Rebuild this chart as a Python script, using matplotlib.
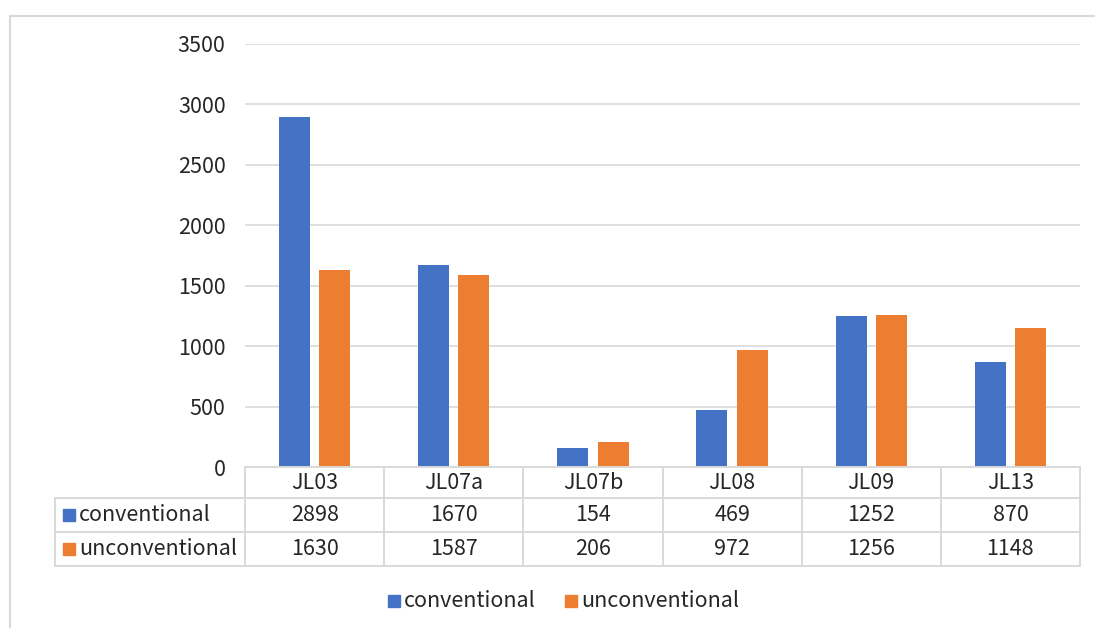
import matplotlib
matplotlib.use("Agg")
import matplotlib.pyplot as plt
from matplotlib.lines import Line2D
from matplotlib.patches import Rectangle
from matplotlib.transforms import blended_transform_factory
import numpy as np

plt.rcParams['font.family'] = ['Noto Sans CJK SC', 'DejaVu Sans']

categories = ["JL03", "JL07a", "JL07b", "JL08", "JL09", "JL13"]
conventional = [2898, 1670, 154, 469, 1252, 870]
unconventional = [1630, 1587, 206, 972, 1256, 1148]
series_names = ["conventional", "unconventional"]
yticks = [0, 500, 1000, 1500, 2000, 2500, 3000, 3500]

BLUE = "#4472C4"
ORANGE = "#ED7D31"
GRID = "#D9D9D9"
TEXT = "#262626"
FS = 15.5
WEIGHT = 300

W, H = 1095, 628
fig = plt.figure(figsize=(W / 100, H / 100), dpi=100)


def fx(px):
    return px / W


def fy(py):
    return 1 - py / H


ax = fig.add_axes([fx(245), fy(467), fx(1080) - fx(245), fy(44) - fy(467)])
x = np.arange(len(categories))
bw = 0.223
off = 0.145
ax.bar(x - off, conventional, bw, color=BLUE, zorder=3)
ax.bar(x + off, unconventional, bw, color=ORANGE, zorder=3)
ax.set_xlim(-0.5, len(categories) - 0.5)
ax.set_ylim(0, 3500)
ax.set_yticks(yticks)
ax.set_yticklabels([str(v) for v in yticks], fontsize=FS, color=TEXT, fontweight=WEIGHT)
ax.set_xticks([])
ax.tick_params(axis="y", length=0, pad=14)
for s in ax.spines.values():
    s.set_visible(False)
ax.grid(axis="y", color=GRID, linewidth=1.2, zorder=0)

# outer chart frame
fig.add_artist(Line2D([fx(10), 1], [fy(15.5), fy(15.5)], color=GRID, lw=1.5, transform=fig.transFigure))
fig.add_artist(Line2D([fx(10), fx(10)], [fy(15.5), 0], color=GRID, lw=1.5, transform=fig.transFigure))

# data table under the plot
tr = blended_transform_factory(ax.transData, fig.transFigure)
row_y = [467, 498, 532, 566]
lw = 1.4
# horizontal lines
fig.add_artist(Line2D([-0.5, len(categories) - 0.5], [fy(467), fy(467)], color=GRID, lw=lw, transform=tr))
for ry in row_y[1:]:
    fig.add_artist(Line2D([fx(55), fx(1080)], [fy(ry), fy(ry)], color=GRID, lw=lw, transform=fig.transFigure))
# vertical lines
fig.add_artist(Line2D([fx(55), fx(55)], [fy(498), fy(566)], color=GRID, lw=lw, transform=fig.transFigure))
for i in range(len(categories) + 1):
    fig.add_artist(Line2D([i - 0.5, i - 0.5], [fy(467), fy(566)], color=GRID, lw=lw, transform=tr))

txt = dict(fontsize=FS, color=TEXT, fontweight=WEIGHT)

# header and values
for i, c in enumerate(categories):
    fig.text(i, fy(483), c, transform=tr, ha="center", va="center", **txt)
    fig.text(i, fy(515), str(conventional[i]), transform=tr, ha="center", va="center", **txt)
    fig.text(i, fy(549), str(unconventional[i]), transform=tr, ha="center", va="center", **txt)

# row labels with legend keys
for ry, name, col in [(515, series_names[0], BLUE), (549, series_names[1], ORANGE)]:
    fig.add_artist(Rectangle((fx(63), fy(ry + 6)), fx(12), fy(0) - fy(12), color=col, transform=fig.transFigure))
    fig.text(fx(79), fy(ry), name, ha="left", va="center", **txt)

# legend below table
for lx, name, col in [(388, series_names[0], BLUE), (565, series_names[1], ORANGE)]:
    fig.add_artist(Rectangle((fx(lx), fy(607)), fx(12), fy(0) - fy(12), color=col, transform=fig.transFigure))
    fig.text(fx(lx + 16), fy(601), name, ha="left", va="center", **txt)

fig.savefig("out.png", dpi=100)
